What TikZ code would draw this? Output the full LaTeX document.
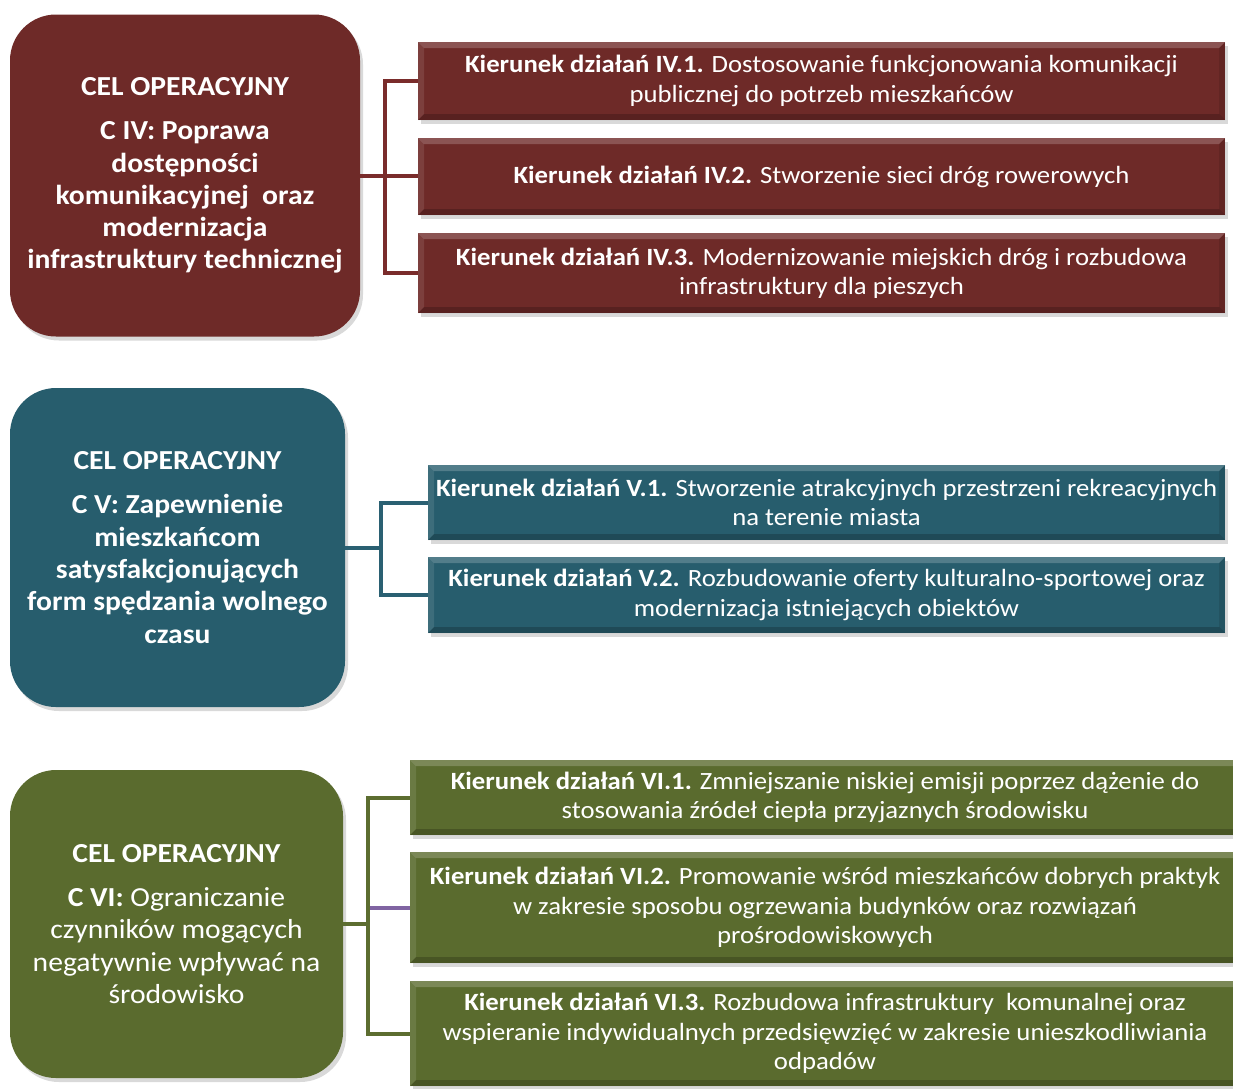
\documentclass[tikz,border=0pt]{standalone}
\usepackage{fontspec}
\setmainfont{Carlito}[FakeStretch=1.077]
\usetikzlibrary{shadows}
\definecolor{redc}{HTML}{6E2A28}
\definecolor{tealc}{HTML}{275D6D}
\definecolor{greenc}{HTML}{5A6B2E}
\definecolor{redl}{HTML}{7A2C2B}
\definecolor{teall}{HTML}{2A6072}
\definecolor{greenl}{HTML}{5C6D30}
\definecolor{purl}{HTML}{8064A2}
\begin{document}
\begin{tikzpicture}[x=1pt,y=-1pt,
  goal/.style={rounded corners=46pt, fill=#1, text=white, align=center,
    font=\fontsize{27.5}{32.3}\selectfont\bfseries, inner sep=0pt,
    drop shadow={shadow xshift=3pt,shadow yshift=-4pt,opacity=0.3}},
  goalr/.style={goal=#1, font=\fontsize{27.5}{32.3}\selectfont},
  dirbox/.style={fill=#1, text=white, align=center,
    font=\fontsize{24.8}{29.3}\selectfont, inner sep=0pt,
    drop shadow={shadow xshift=3pt,shadow yshift=-4pt,opacity=0.3},
    path picture={
      \fill[white,opacity=0.2] (path picture bounding box.north west) -- (path picture bounding box.north east)
        -- ([xshift=-6pt,yshift=-6pt]path picture bounding box.north east) -- ([xshift=6pt,yshift=-6pt]path picture bounding box.north west) -- cycle;
      \fill[white,opacity=0.1] (path picture bounding box.north west) -- ([xshift=6pt,yshift=-6pt]path picture bounding box.north west)
        -- ([xshift=6pt,yshift=6pt]path picture bounding box.south west) -- (path picture bounding box.south west) -- cycle;
      \fill[black,opacity=0.2] (path picture bounding box.south west) -- (path picture bounding box.south east)
        -- ([xshift=-6pt,yshift=6pt]path picture bounding box.south east) -- ([xshift=6pt,yshift=6pt]path picture bounding box.south west) -- cycle;
      \fill[black,opacity=0.1] (path picture bounding box.north east) -- ([xshift=-6pt,yshift=-6pt]path picture bounding box.north east)
        -- ([xshift=-6pt,yshift=6pt]path picture bounding box.south east) -- (path picture bounding box.south east) -- cycle;
    }},
  conn/.style={line width=4pt, draw=#1}
]
\useasboundingbox (0,0) rectangle (1233,1088);

% ---------- Group IV ----------
\node[goal=redc, minimum width=350pt, minimum height=322pt] (L1) at (185,175.5)
 {CEL OPERACYJNY\\[12pt]C IV: Poprawa\\dostępności\\komunikacyjnej~ oraz\\modernizacja\\infrastruktury technicznej};
\node[dirbox=redc, minimum width=807pt, minimum height=78pt] (R11) at (821.5,81)
 {\textbf{Kierunek działań IV.1.} Dostosowanie funkcjonowania komunikacji\\publicznej do potrzeb mieszkańców};
\node[dirbox=redc, minimum width=807pt, minimum height=77pt] (R12) at (821.5,176.5)
 {\textbf{Kierunek działań IV.2.} Stworzenie sieci dróg rowerowych};
\node[dirbox=redc, minimum width=807pt, minimum height=80pt] (R13) at (821.5,273)
 {\textbf{Kierunek działań IV.3.} Modernizowanie miejskich dróg i rozbudowa\\infrastruktury dla pieszych};
\coordinate (j1) at ([xshift=25pt]L1.east);
\draw[conn=redl] (L1.east) -- (j1);
\draw[conn=redl] (R11.west) -| (j1) |- (R13.west);
\draw[conn=redl] (j1) -- (j1 -| R12.west);

% ---------- Group V ----------
\node[goal=tealc, minimum width=335pt, minimum height=319pt] (L2) at (177.5,547.5)
 {CEL OPERACYJNY\\[12pt]C V: Zapewnienie\\mieszkańcom\\satysfakcjonujących\\form spędzania wolnego\\czasu};
\node[dirbox=tealc, minimum width=797pt, minimum height=75pt] (R21) at (826.5,502.5)
 {\textbf{Kierunek działań V.1.} Stworzenie atrakcyjnych przestrzeni rekreacyjnych\\na terenie miasta};
\node[dirbox=tealc, minimum width=797pt, minimum height=76pt] (R22) at (826.5,595)
 {\textbf{Kierunek działań V.2.} Rozbudowanie oferty kulturalno-sportowej oraz\\modernizacja istniejących obiektów};
\coordinate (j2) at ([xshift=36pt]L2.east);
\draw[conn=teall] (L2.east) -- (j2);
\draw[conn=teall] (R21.west) -| (j2) |- (R22.west);

% ---------- Group VI ----------
\node[goalr=greenc, minimum width=333pt, minimum height=308pt] (L3) at (176.5,924)
 {\textbf{CEL OPERACYJNY}\\[12pt]\textbf{C VI:} Ograniczanie\\czynników mogących\\negatywnie wpływać na\\środowisko};
\node[dirbox=greenc, minimum width=830pt, minimum height=75pt] (R31) at (825,797.5)
 {\textbf{Kierunek działań VI.1.} Zmniejszanie niskiej emisji poprzez dążenie do\\stosowania źródeł ciepła przyjaznych środowisku};
\node[dirbox=greenc, minimum width=830pt, minimum height=111pt] (R32) at (825,907.5)
 {\textbf{Kierunek działań VI.2.} Promowanie wśród mieszkańców dobrych praktyk\\w zakresie sposobu ogrzewania budynków oraz rozwiązań\\prośrodowiskowych};
\node[dirbox=greenc, minimum width=830pt, minimum height=105pt] (R33) at (825,1033.5)
 {\textbf{Kierunek działań VI.3.} Rozbudowa infrastruktury~ komunalnej oraz\\wspieranie indywidualnych przedsięwzięć w zakresie unieszkodliwiania\\odpadów};
\coordinate (j3) at ([xshift=25pt]L3.east);
\draw[conn=purl] (j3 |- R32.west) -- (R32.west);
\draw[conn=greenl] (L3.east) -- (j3);
\draw[conn=greenl] (R31.west) -| (j3) |- (R33.west);
\end{tikzpicture}
\end{document}
